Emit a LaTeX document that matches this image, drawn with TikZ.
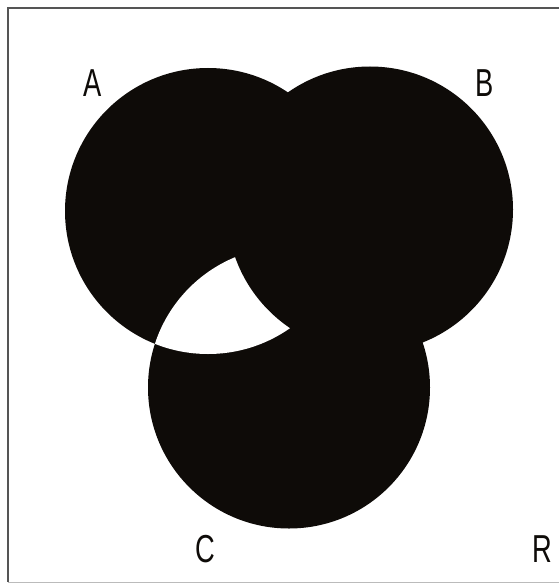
\documentclass[tikz,border=0pt]{standalone}
\usepackage{fontspec}
\setmainfont{Liberation Sans}
\definecolor{ink}{RGB}{14,11,8}
\definecolor{framegray}{RGB}{85,85,85}
\begin{document}
\begin{tikzpicture}[x=1pt,y=-1pt,
  lab/.style={inner sep=0pt, font=\fontsize{39}{40}\selectfont, xscale=0.7, text=ink},
  framestyle/.style={draw=framegray, line width=1.5pt}]
\useasboundingbox (0,0) rectangle (559,586);
\fill[white] (0,0) rectangle (559,586);
% frame
\draw[framestyle] (559,8) -- (8,8) -- (8,582);
\draw[draw=framegray!40, line width=1pt] (8,582) -- (559,582);
% circles
\coordinate (cA) at (208,211);
\coordinate (cB) at (370,209.5);
\coordinate (cC) at (289,387.5);
\fill[ink] (cA) circle[radius=143];
\fill[ink] (cC) circle[radius=141];
\begin{scope}
  \clip (cA) circle[radius=143];
  \fill[white] (cC) circle[radius=141];
\end{scope}
\fill[ink] (cB) circle[radius=143];
% labels
\node[lab] (lA) at (93,83) {A};
\node[lab] (lB) at (485,83) {B};
\node[lab] (lC) at (205,549) {C};
\node[lab] (lR) at (542,549) {R};
\end{tikzpicture}
\end{document}
